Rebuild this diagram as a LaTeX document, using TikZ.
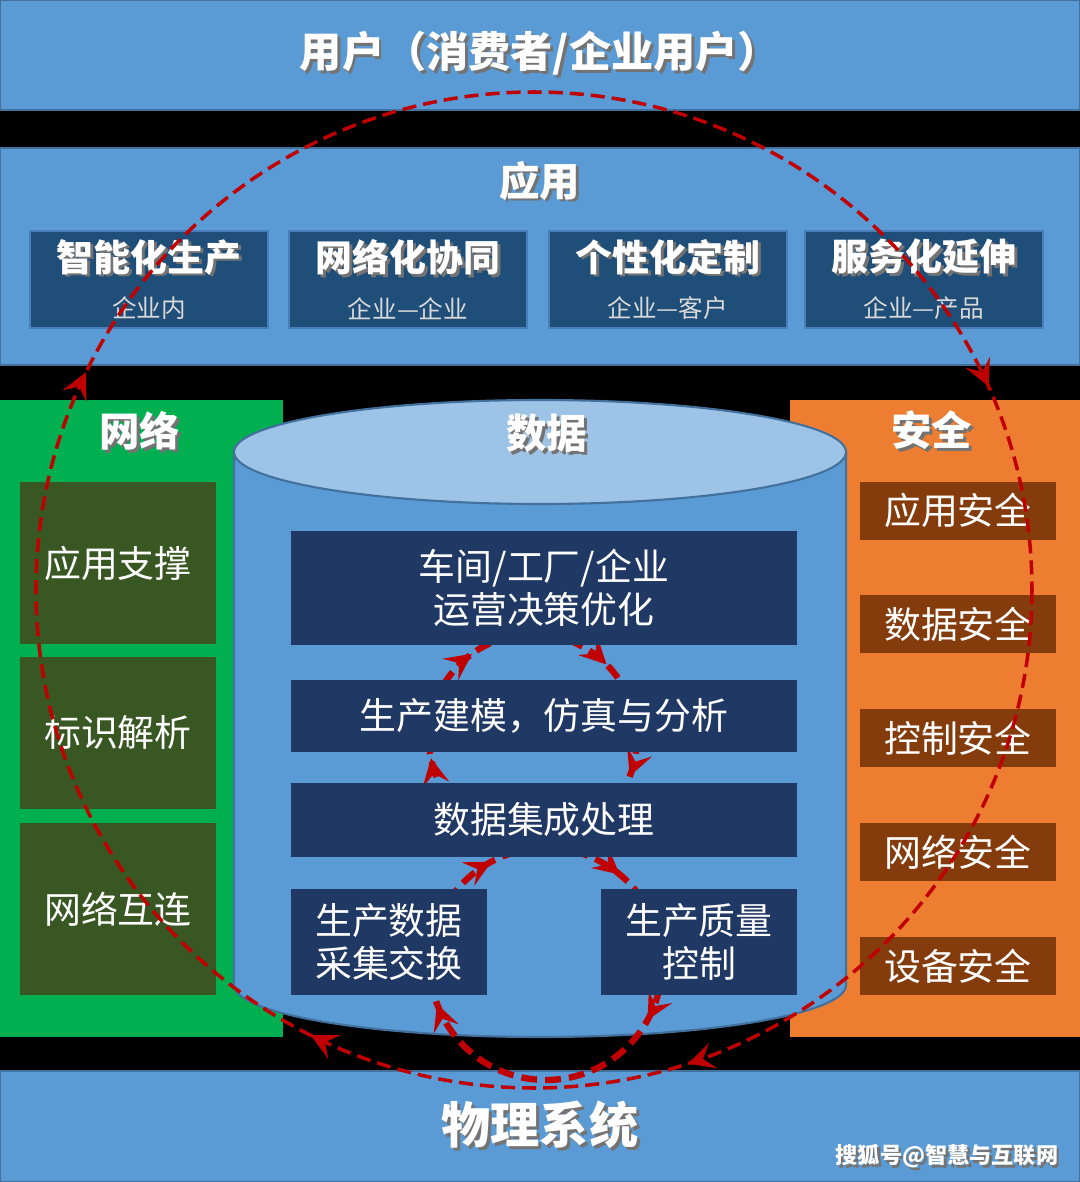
\documentclass[tikz,border=0pt]{standalone}
\usepackage{fontspec}
\setmainfont{Noto Sans CJK SC}
\usetikzlibrary{arrows.meta,decorations.markings}
\definecolor{barblue}{HTML}{5B9BD5}
\definecolor{barline}{HTML}{41719C}
\definecolor{appblue}{HTML}{1F4E79}
\definecolor{applight}{HTML}{4A7EBB}
\definecolor{navy}{HTML}{203864}
\definecolor{netgreen}{HTML}{00B050}
\definecolor{netolive}{HTML}{385723}
\definecolor{secorange}{HTML}{ED7D31}
\definecolor{secbrown}{HTML}{843C0C}
\definecolor{captop}{HTML}{9DC3E6}
\definecolor{loopred}{HTML}{C00000}
\definecolor{subgrey}{HTML}{D9D9D9}
\newcommand\shadowed[1]{\rlap{\hspace{0.8pt}\raisebox{-0.8pt}{\color{black!55}#1}}#1}
\begin{document}
\begin{tikzpicture}[
  bar/.style={fill=barblue,draw=barline,line width=0.6pt,minimum width=10.8cm,inner sep=0pt},
  ttl/.style={text=white,font=\bfseries\fontsize{11.5}{14}\selectfont},
  appbox/.style={fill=appblue,draw=applight,line width=0.8pt,minimum width=2.38cm,minimum height=0.97cm,inner sep=0pt,text=white,align=center,font=\fontsize{10.5}{13.3}\selectfont},
  sidebox/.style={minimum width=1.96cm,inner sep=0pt,text=white,font=\fontsize{10.5}{12}\selectfont},
  databox/.style={fill=navy,inner sep=0pt,text=white,align=center,font=\fontsize{10.5}{12.4}\selectfont},
  redloop/.style={draw,color=loopred,line cap=butt,postaction={decorate}},
  redtip/.tip={Stealth[length=7.5pt,width=7.5pt,inset=3pt]}
]
\fill[black] (0,0) rectangle (10.8,11.82);
\useasboundingbox (0,0) rectangle (10.8,11.82);

\node[bar,ttl,minimum height=1.10cm,font=\bfseries\fontsize{12}{14}\selectfont] at (5.40,11.27) (user) {\shadowed{用户（消费者/企业用户）}};

\node[bar,minimum height=2.17cm] at (5.40,9.255) (appbar) {};
\node[ttl] at (5.40,10.00) (apptitle) {\shadowed{应用}};
\node[appbox] at (1.49,9.025) (app1) {{\bfseries\shadowed{智能化生产}}\\{\color{subgrey}\fontsize{7}{8}\selectfont 企业内}};
\node[appbox] at (4.08,9.025) (app2) {{\bfseries\shadowed{网络化协同}}\\{\color{subgrey}\fontsize{7}{8}\selectfont 企业—企业}};
\node[appbox] at (6.68,9.025) (app3) {{\bfseries\shadowed{个性化定制}}\\{\color{subgrey}\fontsize{7}{8}\selectfont 企业—客户}};
\node[appbox] at (9.24,9.025) (app4) {{\bfseries\shadowed{服务化延伸}}\\{\color{subgrey}\fontsize{7}{8}\selectfont 企业—产品}};

\node[bar,ttl,minimum height=1.11cm,font=\bfseries\fontsize{14}{16}\selectfont] at (5.40,0.555) (phys) {\shadowed{物理系统}};

\fill[netgreen] (0,1.45) rectangle (2.83,7.82);
\node[ttl] at (1.40,7.50) (nettitle) {\shadowed{网络}};
\node[sidebox,fill=netolive,minimum height=1.62cm] at (1.18,6.19) (net1) {应用支撑};
\node[sidebox,fill=netolive,minimum height=1.52cm] at (1.18,4.49) (net2) {标识解析};
\node[sidebox,fill=netolive,minimum height=1.72cm] at (1.18,2.73) (net3) {网络互连};

\fill[secorange] (7.90,1.45) rectangle (10.80,7.82);
\node[ttl] at (9.32,7.50) (sectitle) {\shadowed{安全}};
\node[sidebox,fill=secbrown,minimum height=0.58cm] at (9.58,6.715) (sec1) {应用安全};
\node[sidebox,fill=secbrown,minimum height=0.58cm] at (9.58,5.58) (sec2) {数据安全};
\node[sidebox,fill=secbrown,minimum height=0.58cm] at (9.58,4.44) (sec3) {控制安全};
\node[sidebox,fill=secbrown,minimum height=0.58cm] at (9.58,3.30) (sec4) {网络安全};
\node[sidebox,fill=secbrown,minimum height=0.58cm] at (9.58,2.16) (sec5) {设备安全};

\filldraw[fill=barblue,draw=barline,line width=0.6pt] (2.34,7.30) -- (2.34,1.97) arc[start angle=180,end angle=360,x radius=3.06,y radius=0.52] -- (8.46,7.30) -- cycle;
\filldraw[fill=captop,draw=barline,line width=0.6pt] (5.40,7.30) ellipse [x radius=3.06,y radius=0.52];
\node[ttl] at (5.47,7.47) (datatitle) {\shadowed{数据}};

\coordinate (upc) at (5.33,4.44);
\coordinate (lowc) at (5.46,2.18);
\draw[redloop,line width=1.8pt,dash pattern=on 4.5pt off 2.3pt,
  decoration={markings,
    mark=at position 0.06 with {\arrow{redtip}},
    mark=at position 0.469 with {\arrow{redtip}},
    mark=at position 0.65 with {\arrow{redtip}},
    mark=at position 0.875 with {\arrow{redtip}}}]
  (upc) ++(1.04,0) arc[start angle=360,end angle=0,radius=1.04];
\draw[redloop,line width=1.8pt,dash pattern=on 4.5pt off 2.3pt,
  decoration={markings,
    mark=at position 0.08 with {\arrow{redtip}},
    mark=at position 0.444 with {\arrow{redtip}},
    mark=at position 0.672 with {\arrow{redtip}},
    mark=at position 0.86 with {\arrow{redtip}}}]
  (lowc) ++(1.16,0) arc[start angle=360,end angle=0,radius=1.16];

\node[databox,minimum width=5.06cm,minimum height=1.14cm] at (5.44,5.94) (d1) {车间/工厂/企业\\运营决策优化};
\node[databox,minimum width=5.06cm,minimum height=0.72cm] at (5.44,4.66) (d2) {生产建模，仿真与分析};
\node[databox,minimum width=5.06cm,minimum height=0.74cm] at (5.44,3.62) (d3) {数据集成处理};
\node[databox,minimum width=1.96cm,minimum height=1.06cm] at (3.89,2.40) (d4) {生产数据\\采集交换};
\node[databox,minimum width=1.96cm,minimum height=1.06cm] at (6.99,2.40) (d5) {生产质量\\控制};

\coordinate (bigc) at (5.34,5.92);
\draw[redloop,line width=1pt,dash pattern=on 4pt off 2pt,
  decoration={markings,
    mark=at position 0.2 with {\arrow{redtip}},
    mark=at position 0.324 with {\arrow{redtip}},
    mark=at position 0.572 with {\arrow{redtip}},
    mark=at position 0.933 with {\arrow{redtip}}}]
  (bigc) ++(4.98,0) arc[start angle=360,end angle=0,radius=4.98];

\node[text=white,font=\bfseries\fontsize{6.3}{7}\selectfont] at (9.47,0.24) (sohu) {\shadowed{搜狐号@智慧与互联网}};

\end{tikzpicture}
\end{document}
